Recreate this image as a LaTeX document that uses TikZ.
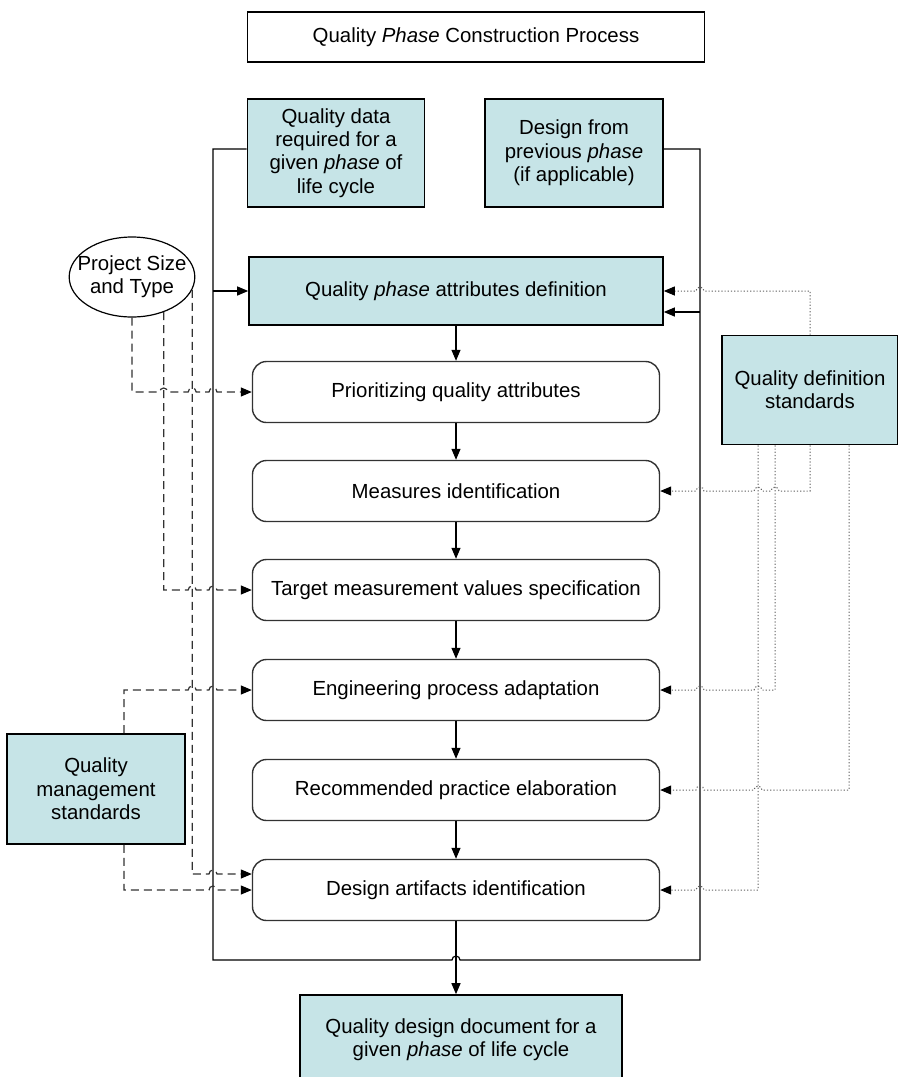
\documentclass[tikz,border=0pt]{standalone}
\usepackage{fontspec}
\setmainfont{Liberation Sans}
\usetikzlibrary{arrows.meta,shapes.geometric,calc}

\definecolor{boxcyan}{RGB}{198,228,231}
\definecolor{linegray}{RGB}{50,50,50}
\definecolor{dotgray}{RGB}{95,95,95}

\tikzset{
  stdbox/.style={draw, line width=0.8pt, fill=boxcyan, align=center, inner sep=0pt},
  stepbox/.style={draw=linegray, line width=0.7pt, rounded corners=7pt,
    minimum width=203.5pt, minimum height=30.5pt, inner sep=0pt},
  arr/.style={-{Triangle[length=5.5pt,width=4.5pt,color=black]}, line width=0.6pt},
  dashlink/.style={arr, draw=linegray, dash pattern=on 4pt off 2.5pt},
  dotlink/.style={arr, draw=dotgray, densely dotted, line width=0.5pt},
}

% line jumps over a vertical line, going right / going left
\newcommand{\hopR}[1]{-- ($(#1)+(-2pt,0)$) arc[start angle=180,end angle=0,radius=2pt]}
\newcommand{\hopL}[1]{-- ($(#1)+(2pt,0)$) arc[start angle=0,end angle=180,radius=2pt]}

\begin{document}
\begin{tikzpicture}[x=0.5pt,y=-0.5pt,font=\fontsize{10.2}{11.7}\selectfont]
    \useasboundingbox (0,0) rectangle (898,1077);

    % title and inputs
    \node[draw, line width=0.6pt, minimum width=228.5pt, minimum height=25pt] (title) at (476,37) {Quality \textit{Phase} Construction Process};
    \node[stdbox, minimum width=88.5pt, minimum height=54pt] (qd) at (336,153) {Quality data\\required for a\\given \textit{phase} of\\life cycle};
    \node[stdbox, minimum width=89pt, minimum height=54pt] (dp) at (574,153) {Design from\\previous \textit{phase}\\(if applicable)};
    \node[draw, ellipse, line width=0.6pt, inner xsep=-5pt, inner ysep=0pt, minimum width=61pt, minimum height=40pt, align=center] (pst) at (132,277) {Project Size\\and Type};
    \node[stdbox, minimum width=88pt, minimum height=54.5pt] (qds) at (810,390) {Quality definition\\standards};
    \node[stdbox, minimum width=89pt, minimum height=55pt] (qm) at (96,789) {Quality\\management\\standards};

    % process steps
    \node[stdbox, minimum width=207pt, minimum height=34pt] (qpad) at (456,291) {Quality \textit{phase} attributes definition};
    \node[stepbox] (prio) at (456,392) {Prioritizing quality attributes};
    \node[stepbox] (meas) at (456,491) {Measures identification};
    \node[stepbox] (tgt) at (456,590) {Target measurement values specification};
    \node[stepbox] (eng) at (456,690) {Engineering process adaptation};
    \node[stepbox] (rec) at (456,790) {Recommended practice elaboration};
    \node[stepbox] (art) at (456,890) {Design artifacts identification};
    \node[stdbox, minimum width=161pt, minimum height=45pt] (fin) at (461,1040) {Quality design document for a\\given \textit{phase} of life cycle};

    \coordinate (fBL) at (213,960);
    \coordinate (fBR) at (700,960);
    \coordinate (qdW) at ([yshift=2pt]qd.west);
    \coordinate (dpE) at ([yshift=2pt]dp.east);
    \coordinate (qpadB) at ([yshift=-10.5pt]qpad.east);
    \coordinate (artA) at ([yshift=8pt]art.west);
    \coordinate (qmT) at ([xshift=14pt]qm.north);
    \coordinate (qmB) at ([xshift=14pt]qm.south);
    \coordinate (qs1) at ([xshift=-26pt]qds.south);
    \coordinate (qs2) at ([xshift=-17.5pt]qds.south);
    \coordinate (qs3) at (qds.south);
    \coordinate (qs4) at ([xshift=19.5pt]qds.south);

    % frame round the steps
    \draw[line width=0.6pt] (qdW) -| (fBL) \hopR{art.south |- fBL} -- (fBR) |- (dpE);
    \draw[arr] (fBL |- qpad.west) -- (qpad.west);
    \draw[arr] (fBR |- qpadB) -- (qpadB);

    \foreach \a/\b in {qpad/prio,prio/meas,meas/tgt,tgt/eng,eng/rec,rec/art}
        \draw[arr] (\a) -- (\b);
    \draw[arr] (art.south) -- (art.south |- fin.north);

    % project size and management standards
    \draw[dashlink] (pst.south) -- (pst.south |- prio.west) \hopR{pst.-48 |- prio.west} \hopR{pst.-12 |- prio.west} \hopR{fBL |- prio.west} -- (prio.west);
    \draw[dashlink] (pst.-48) -- (pst.-48 |- tgt.west) \hopR{pst.-12 |- tgt.west} \hopR{fBL |- tgt.west} -- (tgt.west);
    \draw[dashlink] (pst.-12) -- (pst.-12 |- artA) \hopR{fBL |- artA} -- (artA);
    \draw[dashlink] (qmT) -- (qmT |- eng.west) \hopR{pst.-12 |- eng.west} \hopR{fBL |- eng.west} -- (eng.west);
    \draw[dashlink] (qmB) -- (qmB |- art.west) \hopR{fBL |- art.west} -- (art.west);

    % definition standards
    \draw[dotlink] (qds.north) -- (qds.north |- qpad.east) \hopL{fBR |- qpad.east} -- (qpad.east);
    \draw[dotlink] (qs3) -- (qs3 |- meas.east) \hopL{qs2 |- meas.east} \hopL{qs1 |- meas.east} \hopL{fBR |- meas.east} -- (meas.east);
    \draw[dotlink] (qs2) -- (qs2 |- eng.east) \hopL{qs1 |- eng.east} \hopL{fBR |- eng.east} -- (eng.east);
    \draw[dotlink] (qs4) -- (qs4 |- rec.east) \hopL{qs1 |- rec.east} \hopL{fBR |- rec.east} -- (rec.east);
    \draw[dotlink] (qs1) -- (qs1 |- art.east) \hopL{fBR |- art.east} -- (art.east);
\end{tikzpicture}
\end{document}
